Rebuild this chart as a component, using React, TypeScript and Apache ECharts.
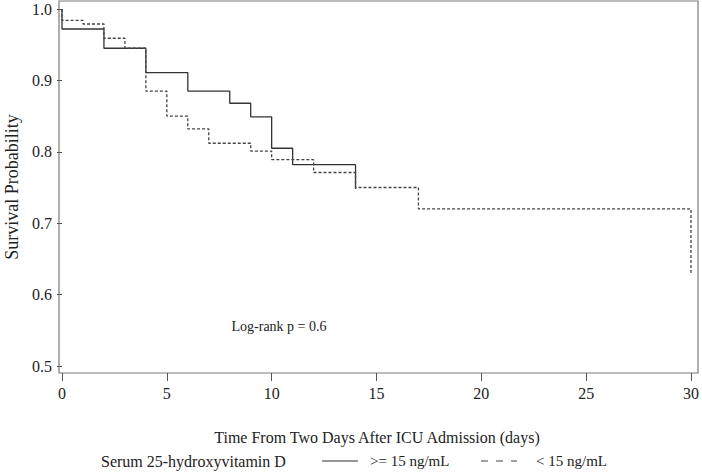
import React, { useEffect, useRef } from "react";
import * as echarts from "echarts";

const highDays = [0, 0, 2, 4, 6, 8, 9, 10, 11, 14];
const highSurv = [1.0, 0.972, 0.945, 0.911, 0.885, 0.868, 0.849, 0.805, 0.782, 0.748];

const lowDays = [0, 0, 1, 2, 3, 4, 5, 6, 7, 9, 10, 12, 14, 17, 30];
const lowSurv = [1.0, 0.984, 0.979, 0.959, 0.945, 0.885, 0.85, 0.832, 0.812, 0.801, 0.789, 0.771, 0.75, 0.72, 0.628];

const xTicks = [0, 5, 10, 15, 20, 25, 30];
const yTicks = [0.5, 0.6, 0.7, 0.8, 0.9, 1.0];

const seriesNames = [">= 15 ng/mL", "< 15 ng/mL"];
const legendTitle = "Serum 25-hydroxyvitamin D";
const xTitle = "Time From Two Days After ICU Admission (days)";
const yTitle = "Survival Probability";
const annotation = "Log-rank p = 0.6";

const FONT = "'Liberation Serif', 'Times New Roman', serif";

export default function App() {
  const ref = useRef<HTMLDivElement>(null);
  useEffect(() => {
    if (!ref.current) return;
    const chart = echarts.init(ref.current, undefined, { renderer: "svg" });
    const pair = (d: number[], s: number[]) => d.map((x, i) => [x, s[i]]);
    chart.setOption({
      animation: false,
      textStyle: { fontFamily: FONT },
      grid: { left: 62, right: 9, top: 9, bottom: 106, containLabel: false },
      xAxis: {
        type: "value",
        min: xTicks[0],
        max: xTicks[xTicks.length - 1],
        interval: 5,
        offset: 7,
        axisLine: { show: false },
        axisTick: { show: true, length: 8, lineStyle: { color: "#555" } },
        axisLabel: { margin: 12, fontSize: 16, color: "#222", fontFamily: FONT },
        splitLine: { show: false },
      },
      yAxis: {
        type: "value",
        min: yTicks[0],
        max: yTicks[yTicks.length - 1],
        interval: 0.1,
        offset: 3,
        axisLine: { show: false },
        axisTick: { show: true, length: 5, lineStyle: { color: "#555" } },
        axisLabel: {
          margin: 7,
          fontSize: 16,
          color: "#222",
          fontFamily: FONT,
          formatter: (v: number) => v.toFixed(1),
        },
        splitLine: { show: false },
      },
      series: [
        {
          name: seriesNames[0],
          type: "line",
          step: "end",
          symbol: "none",
          data: pair(highDays, highSurv),
          lineStyle: { color: "#333", width: 1.3, type: "solid" },
        },
        {
          name: seriesNames[1],
          type: "line",
          step: "end",
          symbol: "none",
          data: pair(lowDays, lowSurv),
          lineStyle: { color: "#444", width: 1.3, type: [3, 2] },
        },
      ],
      graphic: [
        {
          type: "rect",
          shape: { x: 59, y: 1, width: 639, height: 372 },
          style: { fill: "none", stroke: "#7a7a7a", lineWidth: 1.2 },
          silent: true,
        },
        {
          type: "text",
          x: 377,
          y: 437,
          style: { text: xTitle, font: `16px ${FONT}`, fill: "#222", textAlign: "center", textVerticalAlign: "middle" },
        },
        {
          type: "text",
          x: 12,
          y: 187,
          rotation: Math.PI / 2,
          style: { text: yTitle, font: `18px ${FONT}`, fill: "#222", textAlign: "center", textVerticalAlign: "middle" },
        },
        {
          type: "text",
          x: 279,
          y: 326,
          style: { text: annotation, font: `14px ${FONT}`, fill: "#222", textAlign: "center", textVerticalAlign: "middle" },
        },
        {
          type: "text",
          x: 101,
          y: 461,
          style: { text: legendTitle, font: `16px ${FONT}`, fill: "#222", textAlign: "left", textVerticalAlign: "middle" },
        },
        {
          type: "line",
          shape: { x1: 322, y1: 461, x2: 358, y2: 461 },
          style: { stroke: "#333", lineWidth: 1.2 },
        },
        {
          type: "text",
          x: 370,
          y: 461,
          style: { text: seriesNames[0], font: `15px ${FONT}`, fill: "#222", textAlign: "left", textVerticalAlign: "middle" },
        },
        {
          type: "line",
          shape: { x1: 481, y1: 461, x2: 517, y2: 461 },
          style: { stroke: "#444", lineWidth: 1.2, lineDash: [7, 8] },
        },
        {
          type: "text",
          x: 536,
          y: 461,
          style: { text: seriesNames[1], font: `15px ${FONT}`, fill: "#222", textAlign: "left", textVerticalAlign: "middle" },
        },
      ],
    });
    return () => chart.dispose();
  }, []);
  return <div ref={ref} style={{ width: 702, height: 472, position: "absolute", left: 0, top: 0 }} />;
}
